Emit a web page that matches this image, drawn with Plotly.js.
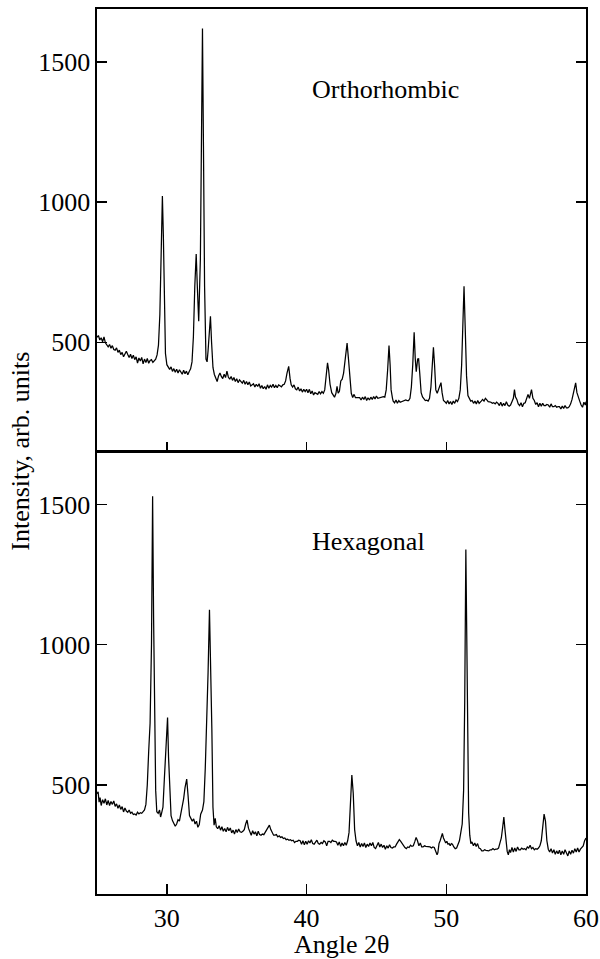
<!DOCTYPE html>
<html>
<head>
<meta charset="utf-8">
<script src="https://cdn.plot.ly/plotly-3.0.1.min.js"></script>
<style>
  html, body { margin: 0; padding: 0; background: #ffffff; }
  #chart { width: 600px; height: 959px; }
</style>
</head>
<body>
<div id="chart"></div>
<script>
// ---------- Data ----------
// Orthorhombic pattern (top panel): angle 2θ, intensity (arb. units)
const orthoAngle = [
25.00,25.10,25.20,25.30,25.40,25.50,25.60,25.70,25.80,25.90,
26.00,26.10,26.20,26.30,26.40,26.50,26.60,26.70,26.80,26.90,
27.00,27.10,27.20,27.30,27.40,27.50,27.60,27.70,27.80,27.90,
28.00,28.10,28.20,28.30,28.40,28.50,28.60,28.70,28.80,28.90,
29.00,29.10,29.20,29.30,29.40,29.50,29.60,29.68,29.75,29.82,29.90,
30.00,30.10,30.20,30.30,30.40,30.50,30.60,30.70,30.80,30.90,
31.00,31.10,31.20,31.30,31.40,31.50,31.60,31.70,31.80,31.90,
32.00,32.10,32.18,32.28,32.40,32.50,32.55,32.62,32.70,32.80,32.88,32.95,
33.05,33.12,33.20,33.30,33.40,33.50,33.60,33.70,33.80,33.90,
34.00,34.10,34.20,34.30,34.40,34.50,34.60,34.70,34.80,34.90,
35.00,35.10,35.20,35.40,35.50,35.60,35.70,35.80,35.90,
36.00,36.20,36.30,36.40,36.50,36.60,36.70,36.80,36.90,
37.00,37.10,37.20,37.30,37.40,37.50,37.60,37.70,37.80,37.90,
38.00,38.20,38.30,38.40,38.50,38.60,38.72,38.82,38.90,
39.00,39.10,39.20,39.30,39.40,39.50,39.60,39.70,39.80,39.90,
40.00,40.10,40.20,40.30,40.40,40.50,40.60,40.70,40.80,40.90,
41.00,41.10,41.20,41.30,41.40,41.50,41.58,41.68,41.80,41.90,
42.00,42.10,42.18,42.26,42.35,42.45,42.55,42.65,42.75,42.90,
43.00,43.10,43.20,43.30,43.40,43.50,43.60,43.70,43.80,43.90,
44.00,44.10,44.20,44.30,44.40,44.50,44.60,44.70,44.80,44.90,
45.00,45.10,45.20,45.40,45.50,45.60,45.70,45.80,45.90,45.98,
46.05,46.15,46.20,46.30,46.40,46.50,46.60,46.70,46.80,46.90,
47.00,47.10,47.20,47.30,47.40,47.50,47.60,47.70,47.78,47.85,47.95,
48.02,48.10,48.20,48.30,48.40,48.50,48.60,48.70,48.80,48.90,
49.00,49.08,49.16,49.25,49.35,49.45,49.55,49.62,49.70,49.80,49.90,
50.00,50.10,50.20,50.30,50.40,50.50,50.60,50.70,50.80,50.90,
51.00,51.10,51.20,51.27,51.35,51.45,51.55,51.65,51.75,51.85,51.95,
52.05,52.15,52.25,52.35,52.50,52.60,52.70,52.80,52.90,
53.00,53.10,53.20,53.30,53.40,53.50,53.60,53.70,53.80,53.90,
54.00,54.10,54.20,54.30,54.40,54.50,54.60,54.70,54.80,54.88,54.95,
55.05,55.15,55.25,55.35,55.45,55.55,55.65,55.75,55.85,55.95,
56.05,56.10,56.20,56.30,56.40,56.50,56.60,56.70,56.80,56.90,
57.00,57.10,57.20,57.30,57.40,57.50,57.60,57.70,57.80,57.90,
58.00,58.10,58.20,58.30,58.40,58.50,58.60,58.70,58.80,58.90,
59.00,59.10,59.20,59.26,59.35,59.45,59.55,59.65,59.75,59.85,59.95,60.00
];
const orthoIntensity = [
518,524,508,516,502,519,498,492,484,492,
479,488,474,472,480,464,472,456,464,448,
458,468,456,446,457,442,454,438,448,426,
444,433,446,423,440,428,442,425,435,438,
428,436,440,455,490,600,860,1022,880,600,460,
420,412,403,412,396,406,393,404,390,402,
392,386,400,388,397,384,396,405,430,520,
700,815,700,575,800,1300,1620,1200,700,440,430,470,
560,593,500,410,385,370,360,380,390,378,
370,386,374,397,376,368,378,364,374,360,
370,356,366,354,364,350,360,348,358,
344,352,340,350,342,352,336,346,334,
342,332,348,336,346,340,350,338,346,338,
348,341,348,350,362,390,414,370,348,
340,348,334,330,340,326,334,322,332,324,
332,320,332,316,326,312,320,318,314,324,
316,324,318,330,370,427,400,350,320,310,
304,317,343,318,325,362,368,390,430,497,
440,360,318,303,314,302,302,304,302,294,
304,296,306,292,302,294,304,296,306,298,
308,300,302,306,306,304,330,400,488,420,
330,300,290,284,294,282,292,286,288,292,
292,294,292,292,300,340,420,536,440,395,440,
441,390,320,305,296,292,293,290,300,340,
420,482,420,330,318,335,350,356,320,292,288,
282,292,280,288,278,290,282,294,288,300,
330,420,560,700,560,380,310,300,290,292,282,
290,280,292,282,290,296,290,300,294,
288,287,286,282,284,280,286,282,274,286,
272,282,274,288,276,272,276,288,300,331,305,
296,280,274,284,270,282,284,296,314,300,
318,331,300,292,278,284,270,282,272,282,
274,274,278,276,268,280,270,270,274,268,
270,270,262,272,264,274,266,266,270,280,
296,320,345,355,320,300,290,276,268,286,276,288
];

// Hexagonal pattern (bottom panel): angle 2θ, intensity (arb. units)
const hexAngle = [
25.00,25.08,25.15,25.22,25.30,25.40,25.50,25.60,25.70,25.80,25.90,
26.00,26.10,26.20,26.30,26.40,26.50,26.60,26.70,26.80,26.90,
27.00,27.10,27.20,27.30,27.40,27.50,27.60,27.70,27.80,27.90,
28.00,28.10,28.20,28.30,28.40,28.50,28.60,28.70,28.80,28.90,28.98,
29.05,29.12,29.20,29.28,29.38,29.48,29.55,29.62,29.72,29.82,29.95,
30.05,30.12,30.20,30.30,30.40,30.50,30.60,30.70,30.80,30.90,
31.00,31.10,31.20,31.30,31.42,31.52,31.62,31.72,31.82,31.92,
32.02,32.12,32.22,32.32,32.42,32.55,32.65,32.75,32.85,32.95,
33.05,33.15,33.22,33.30,33.38,33.46,33.54,33.64,33.74,33.84,33.94,
34.04,34.14,34.24,34.34,34.44,34.54,34.64,34.74,34.84,34.94,
35.04,35.14,35.24,35.34,35.44,35.54,35.64,35.74,35.84,35.94,
36.04,36.14,36.24,36.34,36.44,36.54,36.64,36.74,36.84,36.94,
37.04,37.14,37.24,37.34,37.44,37.54,37.64,37.74,37.84,37.94,
38.04,38.14,38.24,38.34,38.44,38.54,38.64,38.74,38.84,38.94,
39.04,39.14,39.24,39.34,39.44,39.54,39.64,39.74,39.84,39.94,
40.04,40.14,40.24,40.34,40.44,40.54,40.64,40.74,40.84,40.94,
41.04,41.14,41.24,41.34,41.44,41.54,41.64,41.74,41.84,41.94,
42.04,42.14,42.24,42.34,42.44,42.54,42.64,42.74,42.84,42.94,
43.04,43.14,43.24,43.34,43.44,43.54,43.64,43.74,43.84,43.94,
44.04,44.14,44.24,44.34,44.44,44.54,44.64,44.74,44.84,44.94,
45.04,45.14,45.24,45.34,45.44,45.54,45.64,45.74,45.84,45.94,
46.04,46.14,46.24,46.34,46.44,46.54,46.64,46.74,46.84,46.94,
47.04,47.14,47.24,47.34,47.44,47.54,47.64,47.74,47.84,47.94,
48.04,48.14,48.24,48.34,48.44,48.54,48.64,48.74,48.84,48.94,
49.04,49.14,49.24,49.34,49.40,49.48,49.56,49.64,49.72,49.80,49.88,49.96,
50.04,50.12,50.20,50.28,50.36,50.44,50.54,50.64,50.74,50.84,50.94,
51.04,51.14,51.24,51.32,51.40,51.46,51.52,51.60,51.68,51.76,51.84,51.94,
52.04,52.14,52.24,52.34,52.44,52.54,52.64,52.74,52.84,52.94,
53.04,53.14,53.24,53.34,53.44,53.54,53.64,53.74,53.84,53.94,
54.04,54.12,54.20,54.28,54.36,54.44,54.52,54.60,54.70,54.80,54.90,
55.00,55.10,55.20,55.30,55.40,55.50,55.60,55.70,55.80,55.90,
56.00,56.10,56.20,56.30,56.40,56.50,56.60,56.70,56.80,56.90,
57.00,57.10,57.20,57.30,57.40,57.50,57.60,57.70,57.80,57.90,
58.00,58.10,58.20,58.30,58.40,58.50,58.60,58.70,58.80,58.90,
59.00,59.10,59.20,59.30,59.40,59.50,59.60,59.70,59.80,59.90,60.00
];
const hexIntensity = [
468,475,438,454,426,447,434,450,428,444,426,
440,430,442,423,432,416,428,412,422,403,
417,406,402,410,398,402,394,396,392,402,
396,400,398,404,410,430,500,620,720,1000,1530,
1100,720,480,404,398,410,385,398,420,520,650,
740,600,470,390,372,360,352,360,375,370,
395,420,450,490,520,460,390,380,370,378,
360,370,348,358,395,410,440,560,720,900,
1125,900,700,420,356,380,350,343,354,338,350,
334,344,332,348,336,346,328,338,324,340,
330,342,332,330,334,340,360,374,345,330,
320,336,324,332,318,334,322,320,324,322,
330,338,345,356,340,330,320,320,322,314,
318,312,314,308,310,304,306,302,304,300,
302,294,298,298,302,300,288,300,286,298,
288,300,292,304,290,288,294,302,290,288,
294,290,300,296,282,298,298,294,302,298,
298,296,284,296,280,292,282,294,284,300,
330,420,535,470,340,300,282,294,278,290,
280,292,276,288,280,292,282,294,276,272,
282,294,278,288,276,284,270,282,274,286,
276,274,278,278,288,296,304,298,290,286,
276,272,278,276,284,280,282,296,312,300,
282,292,278,278,282,280,280,278,278,274,
278,276,264,250,258,290,300,316,326,310,300,292,
298,288,290,282,290,288,278,272,274,286,300,
330,360,480,800,1340,1000,560,400,320,290,296,282,
292,280,290,274,272,264,264,268,266,266,
264,268,268,272,268,270,270,274,290,310,
350,385,340,290,262,250,268,258,276,260,274,
262,278,268,268,274,270,272,268,278,274,
284,272,276,268,272,270,274,282,300,350,
395,370,300,270,260,272,256,268,252,264,
254,266,250,264,252,268,254,246,264,252,
266,256,272,260,274,260,270,276,282,300,310
];

// Axis settings and labels
const xRange = [25, 60];
const yRange = [110, 1690];
const xTicks = [30, 40, 50, 60];
const yTicks = [500, 1000, 1500];
const panelLabels = ["Orthorhombic", "Hexagonal"];
const xTitle = "Angle 2θ";
const yTitle = "Intensity, arb. units";

// ---------- Plot ----------
const serif = "'Liberation Serif', 'Times New Roman', 'DejaVu Serif', serif";
const lineStyle = { color: "#000000", width: 1.25 };

const traces = [
  { x: orthoAngle, y: orthoIntensity, xaxis: "x2", yaxis: "y2",
    type: "scatter", mode: "lines", line: lineStyle, hoverinfo: "skip" },
  { x: hexAngle, y: hexIntensity, xaxis: "x", yaxis: "y",
    type: "scatter", mode: "lines", line: lineStyle, hoverinfo: "skip" }
];

const xCommon = {
  range: xRange, tickvals: xTicks, ticks: "inside", ticklen: 10, tickwidth: 1.5,
  tickcolor: "#000", showline: true, linecolor: "#000", linewidth: 1.6,
  mirror: true, showgrid: false, zeroline: false,
  tickfont: { family: serif, size: 26, color: "#000" }
};
const yCommon = {
  range: yRange, tickvals: yTicks, ticks: "inside", ticklen: 10, tickwidth: 1.5,
  tickcolor: "#000", showline: true, linecolor: "#000", linewidth: 1.6,
  mirror: "ticks", showgrid: false, zeroline: false,
  tickfont: { family: serif, size: 26, color: "#000" }
};

const layout = {
  width: 600, height: 959,
  margin: { l: 97, r: 14, t: 9, b: 65 },
  paper_bgcolor: "#ffffff", plot_bgcolor: "#ffffff",
  showlegend: false,
  font: { family: serif, size: 26, color: "#000" },
  xaxis: Object.assign({}, xCommon, { domain: [0, 1], anchor: "y" }),
  yaxis: Object.assign({}, yCommon, { domain: [0, 0.5], anchor: "x" }),
  xaxis2: Object.assign({}, xCommon, { domain: [0, 1], anchor: "y2", matches: "x", showticklabels: false }),
  yaxis2: Object.assign({}, yCommon, { domain: [0.5, 1], anchor: "x2" }),
  annotations: [
    { text: panelLabels[0], xref: "paper", yref: "paper", x: 0.4356, y: 0.9085,
      xanchor: "left", yanchor: "middle", showarrow: false,
      font: { family: serif, size: 26, color: "#000" } },
    { text: panelLabels[1], xref: "paper", yref: "paper", x: 0.4356, y: 0.398,
      xanchor: "left", yanchor: "middle", showarrow: false,
      font: { family: serif, size: 26, color: "#000" } },
    { text: xTitle, xref: "paper", yref: "paper", x: 0.5, y: -0.0576,
      xanchor: "center", yanchor: "middle", showarrow: false,
      font: { family: serif, size: 26, color: "#000" } },
    { text: yTitle, xref: "paper", yref: "paper", x: -0.157, y: 0.5,
      xanchor: "center", yanchor: "middle", textangle: -90, showarrow: false,
      font: { family: serif, size: 26, color: "#000" } }
  ]
};

Plotly.newPlot("chart", traces, layout, { staticPlot: true, displayModeBar: false });
</script>
</body>
</html>
